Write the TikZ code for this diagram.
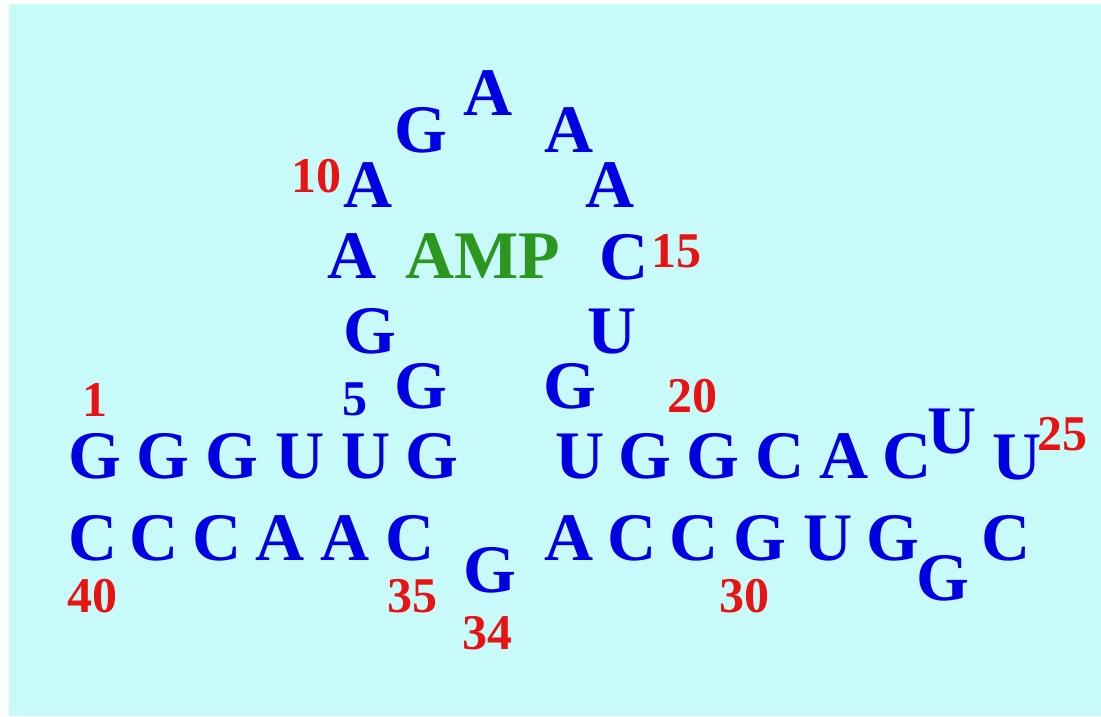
\documentclass[tikz,border=0pt]{standalone}
\usepackage{fontspec}
\setmainfont{Liberation Serif}
\definecolor{bgcyan}{RGB}{200,250,250}
\definecolor{ntblue}{RGB}{0,0,225}
\definecolor{numred}{RGB}{232,20,20}
\definecolor{ampgreen}{RGB}{45,150,30}
\tikzset{
  nt/.style={anchor=base,inner sep=0pt,text=ntblue,font=\bfseries\fontsize{68}{68}\selectfont},
  num/.style={anchor=base,inner sep=0pt,text=numred,font=\bfseries\fontsize{50}{50}\selectfont},
  bluenum/.style={num,text=ntblue},
  ligand/.style={anchor=base,inner sep=0pt,text=ampgreen,font=\bfseries\fontsize{68}{68}\selectfont}
}
\begin{document}
\begin{tikzpicture}[x=1pt,y=-1pt]
\useasboundingbox (0,0) rectangle (1101,716);
\fill[white] (0,0) rectangle (1101,716);
\fill[bgcyan] (9,4) rectangle (1101,716);
% 5' strand of the stem
\node[nt] (n1) at (95,478) {G};
\node[nt] (n2) at (163,478) {G};
\node[nt] (n3) at (232,478) {G};
\node[nt] (n4) at (300,478) {U};
\node[nt] (n5) at (366,478) {U};
\node[nt] (n6) at (432,478) {G};
% aptamer loop
\node[nt] (n7) at (421,408) {G};
\node[nt] (n8) at (370,353) {G};
\node[nt] (n9) at (352,278) {A};
\node[nt] (n10) at (368,207) {A};
\node[nt] (n11) at (421,152) {G};
\node[nt] (n12) at (488,115) {A};
\node[nt] (n13) at (569,152) {A};
\node[nt] (n14) at (610,207) {A};
\node[nt] (n15) at (624,279) {C};
\node[nt] (n16) at (612,353) {U};
\node[nt] (n17) at (570,408) {G};
% right-hand stem and hairpin
\node[nt] (n18) at (580,478) {U};
\node[nt] (n19) at (645,478) {G};
\node[nt] (n20) at (713,478) {G};
\node[nt] (n21) at (780,478) {C};
\node[nt] (n22) at (844,478) {A};
\node[nt] (n23) at (907,478) {C};
\node[nt] (n24) at (952,453) {U};
\node[nt] (n25) at (1017,479) {U};
\node[nt] (n26) at (1006,560) {C};
\node[nt] (n27) at (943,600) {G};
\node[nt] (n28) at (893,560) {G};
\node[nt] (n29) at (828,560) {U};
\node[nt] (n30) at (760,560) {G};
\node[nt] (n31) at (694,560) {C};
\node[nt] (n32) at (632,560) {C};
\node[nt] (n33) at (569,560) {A};
\node[nt] (n34) at (490,592) {G};
% 3' strand of the stem
\node[nt] (n35) at (410,560) {C};
\node[nt] (n36) at (345,560) {A};
\node[nt] (n37) at (280,560) {A};
\node[nt] (n38) at (217,560) {C};
\node[nt] (n39) at (154,560) {C};
\node[nt] (n40) at (93,560) {C};
% ligand
\node[ligand] (amp) at (483,278) {AMP};
% position numbers
\node[num] (l1) at (95,416) {1};
\node[bluenum] (l5) at (355,415) {5};
\node[num] (l10) at (316,192) {10};
\node[num] (l15) at (676,267) {15};
\node[num] (l20) at (692,412) {20};
\node[num] (l25) at (1062,450) {25};
\node[num] (l30) at (744,612) {30};
\node[num] (l34) at (487,649) {34};
\node[num] (l35) at (412,612) {35};
\node[num] (l40) at (92,612) {40};
\end{tikzpicture}
\end{document}
